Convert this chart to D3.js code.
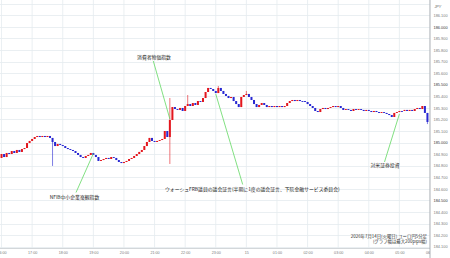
<!DOCTYPE html>
<html>
<head>
<meta charset="utf-8">
<script src="https://cdn.jsdelivr.net/npm/d3@7"></script>
<style>
  html, body { margin: 0; padding: 0; background: #fff; }
  svg { display: block; font-family: "Liberation Sans", Arial, sans-serif; }
  .jp { font-family: "Noto Sans CJK JP", "Noto Sans", sans-serif; }
</style>
</head>
<body>
<div id="chart"></div>
<script>
// EUR/JPY 5-minute candles, 2026-07-14 16:00 .. 07-15 05:55 (JST)
// one array of closes per hour, 12 candles each; open = previous close
const firstOpen = 184.867;
const h16 = [184.901, 184.875, 184.910, 184.901, 184.927, 184.910, 184.936, 184.919, 184.944, 184.953, 184.996, 185.014];
const h17 = [185.031, 185.048, 185.057, 185.048, 185.057, 185.048, 185.057, 185.040, 185.005, 184.970, 184.988, 184.979];
const h18 = [184.970, 184.953, 184.944, 184.936, 184.927, 184.910, 184.893, 184.875, 184.867, 184.884, 184.893, 184.910];
const h19 = [184.893, 184.875, 184.841, 184.849, 184.858, 184.867, 184.858, 184.875, 184.867, 184.849, 184.832, 184.823];
const h20 = [184.832, 184.841, 184.858, 184.867, 184.884, 184.901, 184.919, 184.936, 184.970, 185.005, 185.040, 185.014];
const h21 = [185.005, 185.014, 185.022, 185.031, 185.100, 185.048, 185.195, 185.307, 185.290, 185.282, 185.299, 185.273];
const h22 = [185.316, 185.333, 185.316, 185.342, 185.325, 185.359, 185.351, 185.385, 185.437, 185.472, 185.463, 185.446];
const h23 = [185.428, 185.472, 185.446, 185.420, 185.403, 185.385, 185.394, 185.359, 185.333, 185.307, 185.394, 185.411];
const h00 = [185.420, 185.394, 185.368, 185.333, 185.307, 185.325, 185.342, 185.325, 185.307, 185.316, 185.307, 185.316];
const h01 = [185.307, 185.316, 185.307, 185.316, 185.342, 185.359, 185.368, 185.359, 185.368, 185.359, 185.359, 185.351];
const h02 = [185.333, 185.316, 185.299, 185.273, 185.264, 185.290, 185.299, 185.290, 185.299, 185.307, 185.316, 185.307];
const h03 = [185.316, 185.299, 185.282, 185.290, 185.282, 185.273, 185.290, 185.282, 185.290, 185.282, 185.273, 185.282];
const h04 = [185.273, 185.264, 185.273, 185.264, 185.256, 185.264, 185.256, 185.247, 185.238, 185.221, 185.256, 185.264];
const h05 = [185.273, 185.273, 185.282, 185.273, 185.282, 185.273, 185.290, 185.299, 185.290, 185.316, 185.256, 185.178];

// notable wicks: [candle index, price]
const wickHighs = [[66, 185.385], [73, 185.411], [85, 185.489], [96, 185.446]];
const wickLows = [[20, 184.798], [66, 184.815], [167, 185.160]];

const yTicks = [184.1, 184.2, 184.3, 184.4, 184.5, 184.6, 184.7, 184.8, 184.9, 185.0,
                185.1, 185.2, 185.3, 185.4, 185.5, 185.6, 185.7, 185.8, 185.9, 186.0, 186.1];
const gridLevels = yTicks.concat([186.2]);
const xTickHours = [16, 17, 18, 19, 20, 21, 22, 23, 24, 25, 26, 27, 28, 29, 30];
const xTickLabels = ['16:00', '17:00', '18:00', '19:00', '20:00', '21:00', '22:00', '23:00',
                     '15', '01:00', '02:00', '03:00', '04:00', '05:00', '06:00'];

// annotations: event time (hour, minute), price the leader points at
const notes = [
  {text: '消費者物価指数', h: 21, m: 30, price: 185.204, tx: 154, ty: 59, anchor: 'middle', lx: 153.3, ly: 61},
  {text: 'NFIB中小企業楽観指数', h: 19, m: 0, price: 184.905, tx: 74.5, ty: 199, anchor: 'middle', lx: 76, ly: 192.5},
  {text: 'ウォーシュFRB議員の議会証言(半期に1度の議会証言、下院金融サービス委員会)', h: 23, m: 0, price: 185.420,
   tx: 165, ty: 190.5, anchor: 'start', lx: 242.7, ly: 184.5},
  {text: '対米証券投資', h: 29, m: 0, price: 185.247, tx: 385, ty: 166.5, anchor: 'middle', lx: 384.5, ly: 162}
];
const footLines = ['2026年7月14日(火曜日) ユーロ円5分足', '(グラフ幅は最大200pips幅)'];

const W = 450, H = 258;
const plotR = 430, plotB = 248.5;
const UP = '#e3161d', DOWN = '#2828d2', LEAD = '#62d862';

const closes = [].concat(h16, h17, h18, h19, h20, h21, h22, h23, h00, h01, h02, h03, h04, h05);
const hiMap = new Map(wickHighs), loMap = new Map(wickLows);
const candles = closes.map((c, i) => {
  const o = i === 0 ? firstOpen : closes[i - 1];
  return {
    t: new Date(2026, 6, 14, 16, 5 * i),
    o: o, c: c,
    hi: hiMap.has(i) ? hiMap.get(i) : Math.max(o, c),
    lo: loMap.has(i) ? loMap.get(i) : Math.min(o, c)
  };
});

const hourDate = h => new Date(2026, 6, 14, h, 0);

const x = d3.scaleTime()
  .domain([new Date(2026, 6, 14, 15, 57), new Date(2026, 6, 15, 6, 0)])
  .range([0, plotR]);
const y = d3.scaleLinear().domain([184.1, 186.1]).range([246.7, 15.3]);

const svg = d3.select('#chart').append('svg')
  .attr('width', W).attr('height', H);

svg.append('rect').attr('width', W).attr('height', H).attr('fill', '#fff');

svg.append('clipPath').attr('id', 'plotclip')
  .append('rect').attr('x', 0).attr('y', 0).attr('width', plotR).attr('height', plotB);

// grid
const grid = svg.append('g').attr('clip-path', 'url(#plotclip)');
grid.selectAll('line.h').data(gridLevels).join('line')
  .attr('class', 'h')
  .attr('x1', 0).attr('x2', plotR)
  .attr('y1', d => Math.round(y(d)) + 0.5).attr('y2', d => Math.round(y(d)) + 0.5)
  .attr('stroke', '#e4ebef').attr('stroke-width', 0.8);
grid.selectAll('line.v').data(xTickHours).join('line')
  .attr('class', 'v')
  .attr('x1', d => x(hourDate(d))).attr('x2', d => x(hourDate(d)))
  .attr('y1', 0).attr('y2', plotB)
  .attr('stroke', '#e4ebef').attr('stroke-width', 0.8);

// candles
const cg = svg.append('g').attr('clip-path', 'url(#plotclip)');
const bar = cg.selectAll('g').data(candles).join('g');
bar.append('line')
  .attr('x1', d => x(d.t)).attr('x2', d => x(d.t))
  .attr('y1', d => y(d.hi)).attr('y2', d => y(d.lo))
  .attr('stroke', d => d.c > d.o ? UP : DOWN)
  .attr('stroke-width', 0.6);
bar.append('rect')
  .attr('x', d => x(d.t) - 1)
  .attr('width', 2)
  .attr('y', d => y(Math.max(d.o, d.c)))
  .attr('height', d => Math.max(0.9, Math.abs(y(d.o) - y(d.c))))
  .attr('fill', d => d.c > d.o ? UP : DOWN);

// bottom line + right axis line
svg.append('line').attr('x1', 0).attr('x2', plotR).attr('y1', plotB).attr('y2', plotB)
  .attr('stroke', '#c8cdd0').attr('stroke-width', 0.8);
svg.append('line').attr('x1', plotR).attr('x2', plotR).attr('y1', 0).attr('y2', H)
  .attr('stroke', '#9aa0a4').attr('stroke-width', 0.8);

// y axis (right)
const yAxis = d3.axisRight(y).tickValues(yTicks).tickSize(0).tickPadding(3.5)
  .tickFormat(d3.format('.3f'));
const ya = svg.append('g').attr('transform', `translate(${plotR},0)`).call(yAxis);
ya.select('.domain').remove();
ya.selectAll('text')
  .attr('font-size', 3.9)
  .attr('font-family', '"Liberation Sans", Arial, sans-serif')
  .attr('fill', d => Math.round(d * 10) % 5 === 0 ? '#333' : '#7a7a7a');

svg.append('text').attr('x', 434.5).attr('y', 7.5)
  .attr('font-size', 3.7).attr('fill', '#666').attr('font-style', 'italic').text('JPY');

// x axis (bottom), labels clipped at the price axis
svg.append('clipPath').attr('id', 'xclip')
  .append('rect').attr('x', 0).attr('y', 0).attr('width', plotR).attr('height', H - plotB);
const xAxis = d3.axisBottom(x).tickValues(xTickHours.map(hourDate)).tickSize(0).tickPadding(3)
  .tickFormat((d, i) => xTickLabels[i]);
const xa = svg.append('g').attr('transform', `translate(0,${plotB})`)
  .attr('clip-path', 'url(#xclip)').call(xAxis);
xa.select('.domain').remove();
xa.selectAll('text').attr('font-size', 3.7).attr('fill', '#7a7a7a')
  .attr('font-family', '"Liberation Sans", Arial, sans-serif');

// annotations
const ng = svg.append('g');
ng.selectAll('line').data(notes).join('line')
  .attr('x1', d => d.lx).attr('y1', d => d.ly)
  .attr('x2', d => x(new Date(2026, 6, 14, d.h, d.m))).attr('y2', d => y(d.price))
  .attr('stroke', LEAD).attr('stroke-width', 0.8);
ng.selectAll('text').data(notes).join('text')
  .attr('class', 'jp')
  .attr('x', d => d.tx).attr('y', d => d.ty)
  .attr('text-anchor', d => d.anchor)
  .attr('font-size', 4.85).attr('fill', '#222')
  .text(d => d.text);

svg.append('g').selectAll('text').data(footLines).join('text')
  .attr('class', 'jp')
  .attr('x', 427).attr('y', (d, i) => 237.8 + i * 4.7)
  .attr('text-anchor', 'end')
  .attr('font-size', 4.4).attr('fill', '#333')
  .text(d => d);
</script>
</body>
</html>
